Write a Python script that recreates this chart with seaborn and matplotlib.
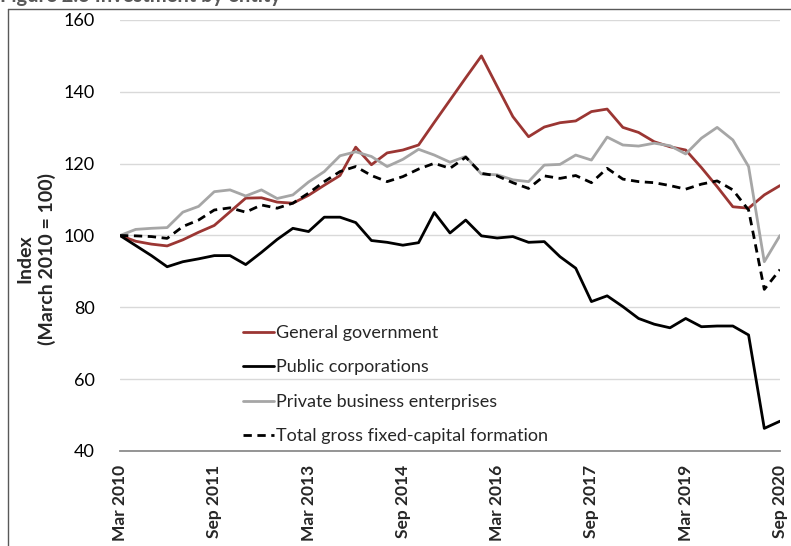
#!/usr/bin/env python3
"""Investment by entity: quarterly index, March 2010 = 100."""

import matplotlib

matplotlib.use("Agg")
import matplotlib.pyplot as plt
from matplotlib.lines import Line2D
import pandas as pd
import seaborn as sns

# Quarterly values, Mar 2010 .. Sep 2020 (43 quarters)
quarter_idx = list(range(43))
tick_pos = [0, 6, 12, 18, 24, 30, 36, 42]
tick_labels = ["Mar 2010", "Sep 2011", "Mar 2013", "Sep 2014",
               "Mar 2016", "Sep 2017", "Mar 2019", "Sep 2020"]

general_government = [
    100, 98.4, 97.6, 97.1, 98.8, 100.9, 102.8, 106.6, 110.4, 110.5,
    109.3, 109.0, 111.2, 114.0, 116.7, 124.6, 119.7, 123.0, 123.8, 125.2,
    131.5, 137.7, 143.9, 150.0, 141.5, 133.1, 127.5, 130.2, 131.4, 131.9,
    134.5, 135.2, 130.1, 128.7, 126.1, 124.7, 123.8, 118.9, 113.6, 108.0,
    107.6, 111.3, 113.9,
]
public_corporations = [
    100, 97.2, 94.4, 91.3, 92.7, 93.5, 94.4, 94.4, 91.9, 95.3,
    98.9, 102.0, 101.1, 105.1, 105.1, 103.6, 98.6, 98.1, 97.3, 98.0,
    106.4, 100.7, 104.3, 99.9, 99.3, 99.7, 98.1, 98.3, 94.1, 90.9,
    81.6, 83.2, 80.2, 76.9, 75.3, 74.3, 76.9, 74.6, 74.8, 74.8,
    72.3, 46.3, 48.3,
]
private_business = [
    100, 101.7, 102.0, 102.2, 106.5, 108.1, 112.2, 112.7, 111.0, 112.7,
    110.3, 111.3, 114.9, 117.8, 122.2, 123.3, 122.0, 119.2, 121.2, 124.0,
    122.4, 120.4, 122.0, 117.1, 116.9, 115.5, 115.0, 119.6, 119.8, 122.4,
    121.0, 127.4, 125.2, 124.9, 125.7, 125.0, 122.7, 127.1, 130.1, 126.6,
    119.2, 92.7, 100.0,
]
total_gfcf = [
    100, 99.9, 99.7, 99.2, 102.5, 104.3, 107.1, 107.7, 106.5, 108.5,
    107.6, 109.0, 111.8, 115.0, 117.8, 119.2, 116.7, 115.0, 116.4, 118.5,
    120.1, 118.7, 121.8, 117.3, 116.6, 114.7, 113.1, 116.6, 115.9, 116.7,
    114.7, 118.7, 115.7, 115.0, 114.7, 113.9, 112.9, 114.3, 115.2, 112.7,
    107.1, 85.0, 90.5,
]

series = [
    ("General government", general_government, "#9b3633", "-"),
    ("Public corporations", public_corporations, "#000000", "-"),
    ("Private business enterprises", private_business, "#a6a6a6", "-"),
    ("Total gross fixed-capital formation", total_gfcf, "#000000", (0, (3, 2))),
]

sns.set_style("white")
plt.rcParams["font.family"] = ["Lato", "DejaVu Sans"]

W, H = 791, 546
fig = plt.figure(figsize=(W / 100, H / 100), dpi=100)
ax = fig.add_axes([120 / W, 1 - 451 / H, 660 / W, 431 / H])

for name, vals, color, ls in series:
    df = pd.DataFrame({"q": quarter_idx, "v": vals})
    sns.lineplot(data=df, x="q", y="v", ax=ax, color=color, linewidth=2.0,
                 linestyle=ls, label=name)

ax.set_xlim(0, 42)
ax.set_ylim(40, 160)
ax.set_yticks(range(40, 161, 20))
ax.grid(axis="y", color="#d9d9d9", linewidth=1.0)
ax.grid(axis="x", visible=False)
ax.set_axisbelow(True)
for s in ["top", "right", "left"]:
    ax.spines[s].set_visible(False)
ax.spines["bottom"].set_color("#8c8c8c")
ax.spines["bottom"].set_linewidth(1.3)
ax.tick_params(axis="y", length=0, pad=18, labelsize=13, labelcolor="#000000")
ax.set_xticks(tick_pos)
ax.set_xticklabels(tick_labels, rotation=90, fontweight="bold", fontsize=12.5)
ax.tick_params(axis="x", length=0, pad=10)
ax.set_xlabel("")
ax.set_ylabel("")

fig.text(36 / W, 1 - 259 / H, "Index\n(March 2010 = 100)", rotation=90,
         ha="center", va="center", multialignment="center",
         fontweight="bold", fontsize=14, linespacing=1.3)

leg = ax.legend(loc="upper left", bbox_to_anchor=(243 / W, 1 - 325 / H),
                bbox_transform=fig.transFigure, frameon=False, fontsize=13,
                handlelength=1.7, handletextpad=0.1, labelspacing=1.02,
                borderpad=0, borderaxespad=0)

# partially cropped title and the outer frame
fig.text(0.0, 1 - 2 / H, "Figure 2.3 Investment by entity", ha="left",
         va="baseline", fontweight="bold", fontsize=14.5, color="#595959")
fig.add_artist(Line2D([8 / W, 8 / W], [0, 1 - 8.5 / H], transform=fig.transFigure,
                      color="#595959", linewidth=1.0))
fig.add_artist(Line2D([8 / W, 1], [1 - 8.5 / H, 1 - 8.5 / H],
                      transform=fig.transFigure, color="#595959", linewidth=1.0))

fig.savefig("out.png", dpi=100)
plt.close(fig)
